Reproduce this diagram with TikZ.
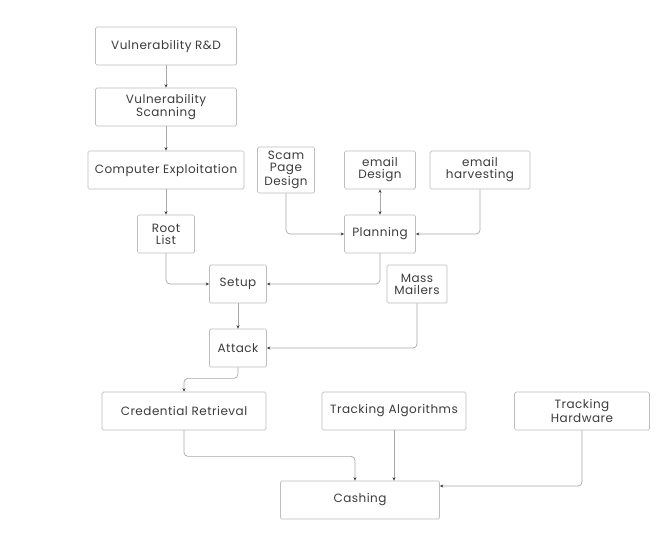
\documentclass[tikz,border=0pt]{standalone}
\usepackage{fontspec}
\setmainfont{Poppins}[LetterSpace=4]
\usepackage{xcolor}
\definecolor{lighttext}{HTML}{BDBDBD}
\definecolor{linegray}{HTML}{A8A8A8}
\definecolor{darktext}{HTML}{3C3C3C}
\usetikzlibrary{arrows.meta}

\begin{document}
\begin{tikzpicture}[x=1pt, y=-1pt,
        box/.style={draw=lighttext, rounded corners=1.5pt, line width=0.7pt,
            minimum height=38pt, inner sep=2pt, align=center,
            text=darktext, font=\fontsize{12}{12}\selectfont},
        link/.style={draw=linegray, line width=0.7pt, rounded corners=4pt,
            -{Stealth[length=3.5pt, width=3pt, color=darktext]}}]
        \useasboundingbox[fill=white] (0,0) rectangle (672,536);
        % Nodes
        \node[box, minimum width=141pt] (RD) at (166,46) {Vulnerability R\&D};
        \node[box, minimum width=141pt] (scan) at (166,107) {Vulnerability\\Scanning};
        \node[box, minimum width=156pt] (exploit) at (166,170) {Computer Exploitation};
        \node[box, minimum width=57pt] (root) at (166,234) {Root\\List};
        \node[box, minimum width=57pt, minimum height=46pt] (scam) at (286,170) {Scam\\Page\\Design};
        \node[box, minimum width=71pt] (edesign) at (380,170) {email\\Design};
        \node[box, minimum width=100pt] (harvest) at (480,170) {email\\harvesting};
        \node[box, minimum width=71pt] (plan) at (380,234) {Planning};
        \node[box, minimum width=57pt] (setup) at (238,284) {Setup};
        \node[box, minimum width=60pt] (mailers) at (417,284) {Mass\\Mailers};
        \node[box, minimum width=57pt] (attack) at (238,348) {Attack};
        \node[box, minimum width=164pt] (cred) at (184,411) {Credential Retrieval};
        \node[box, minimum width=144pt] (algo) at (394,411) {Tracking Algorithms};
        \node[box, minimum width=135pt] (hw) at (582,411) {Tracking\\Hardware};
        \node[box, minimum width=159pt] (cash) at (360,500) {Cashing};
        % Arrows
        \path[link] (RD) -- (scan);
        \path[link] (scan) -- (exploit);
        \path[link] (exploit) -- (root);
        \path[link] (root.south) |- (setup.west);
        \path[link] (scam.south) |- (plan.west);
        \path[link, {Stealth[length=3.5pt, width=3pt, color=darktext]}-{Stealth[length=3.5pt, width=3pt, color=darktext]}] (edesign) -- (plan);
        \path[link] (harvest.south) |- (plan.east);
        \path[link] (plan.south) |- (setup.east);
        \path[link] (setup) -- (attack);
        \path[link] (mailers.south) |- (attack.east);
        \path[link] (attack.south) -- ++(0,11) -| (cred.north);
        \path[link] (cred.south) -- ++(0,26) -| ([xshift=-5pt]cash.north);
        \path[link] (algo.south) -- (algo.south |- cash.north);
        \path[link] (hw.south) |- ([yshift=14pt]cash.east);
    \end{tikzpicture}
\end{document}
